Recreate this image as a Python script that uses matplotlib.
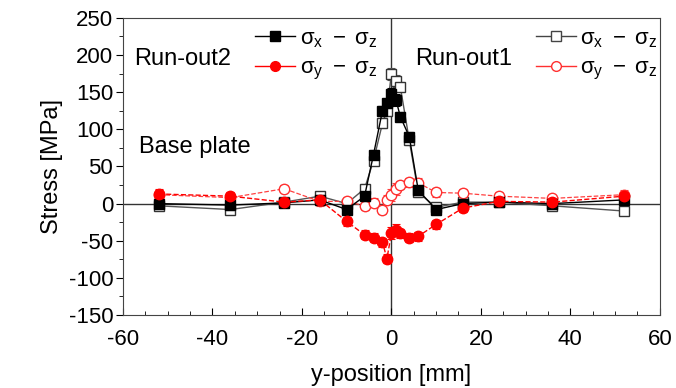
import numpy as np
import matplotlib
matplotlib.use('Agg')
import matplotlib.pyplot as plt
from matplotlib.lines import Line2D

plt.rcParams['font.family'] = ['Liberation Sans', 'DejaVu Sans']
plt.rcParams['mathtext.fontset'] = 'custom'
plt.rcParams['mathtext.rm'] = 'Liberation Sans'
plt.rcParams['mathtext.it'] = 'Liberation Sans'
plt.rcParams['axes.unicode_minus'] = False

# y-position of measurement points [mm]
pos = [-52, -36, -24, -16, -10, -6, -4, -2, -1, 0, 1, 2, 4, 6, 10, 16, 24, 36, 52]

# Run-out2 (filled symbols)
sxz_ro2 = [0, -2, 1, 5, -8, 10, 66, 125, 135, 148, 140, 117, 90, 18, -8, 0, 2, 0, 5]
syz_ro2 = [13, 10, 2, 5, -24, -42, -46, -52, -74, -40, -35, -40, -46, -44, -28, -6, 3, 2, 10]

# Run-out1 (open symbols)
sxz_ro1 = [-3, -8, 2, 10, 0, 20, 58, 108, 125, 175, 165, 157, 85, 15, -5, 2, 2, -3, -10]
syz_ro1 = [12, 8, 20, 3, 3, -3, 1, -8, 5, 12, 20, 25, 29, 28, 15, 14, 10, 7, 12]

err = [6, 6, 5, 6, 6, 6, 6, 6, 6, 8, 8, 6, 6, 6, 6, 5, 5, 5, 6]

fig = plt.figure(figsize=(6.76, 3.88), dpi=100)
ax = fig.add_axes([0.182, 0.188, 0.794, 0.766])

ax.axhline(0, color='#333333', lw=1.0, zorder=1)
ax.axvline(0, color='#333333', lw=1.0, zorder=1)

eb = dict(capsize=3, elinewidth=0.8, capthick=0.8, markersize=7.5)

# open symbols (Run-out1) drawn first
ax.errorbar(pos, sxz_ro1, yerr=err, fmt='-s', color='#555555', mfc='white',
            mec='#333333', lw=1.0, zorder=2, **eb)
ax.errorbar(pos, syz_ro1, yerr=err, fmt='--o', color='#ff4040', mfc='white',
            mec='#ff3030', lw=0.9, zorder=2, **eb)
# filled symbols (Run-out2)
ax.errorbar(pos, sxz_ro2, yerr=err, fmt='-s', color='black', mfc='black',
            lw=1.0, zorder=3, **eb)
ax.errorbar(pos, syz_ro2, yerr=err, fmt='--o', color='red', mfc='red',
            lw=1.0, zorder=3, **eb)

ax.set_xlim(-60, 60)
ax.set_ylim(-150, 250)
ax.set_xticks(np.arange(-60, 61, 20))
ax.set_yticks(np.arange(-150, 251, 50))
ax.set_xticks(np.arange(-60, 61, 5), minor=True)
ax.set_yticks(np.arange(-150, 251, 25), minor=True)
ax.tick_params(axis='x', which='major', direction='in', length=5, labelsize=16, pad=10)
ax.tick_params(axis='x', which='minor', direction='in', length=3)
ax.tick_params(axis='y', which='major', direction='out', length=5, labelsize=16, pad=2)
ax.tick_params(axis='y', which='minor', direction='out', length=3)
for s in ax.spines.values():
    s.set_color('#444444')

ax.set_xlabel('y-position [mm]', fontsize=17, labelpad=10)
ax.set_ylabel('Stress [MPa]', fontsize=17, labelpad=4)

lab_x = r'$\sigma_x\ -\ \sigma_z$'
lab_y = r'$\sigma_y\ -\ \sigma_z$'
hd1 = [Line2D([], [], color='black', marker='s', ms=7, lw=1.0),
       Line2D([], [], color='red', marker='o', ms=7, lw=1.0)]
hd2 = [Line2D([], [], color='#444444', marker='s', ms=7, mfc='white', lw=1.0),
       Line2D([], [], color='#ff3030', marker='o', ms=7, mfc='white', lw=1.0)]
leg1 = ax.legend(hd1, [lab_x, lab_y], loc='upper left', bbox_to_anchor=(0.23, 0.995),
                 frameon=False, fontsize=16, handlelength=1.8, handletextpad=0.2,
                 labelspacing=0.35, borderaxespad=0)
ax.add_artist(leg1)
ax.legend(hd2, [lab_x, lab_y], loc='upper left', bbox_to_anchor=(0.752, 0.995),
          frameon=False, fontsize=16, handlelength=1.8, handletextpad=0.2,
          labelspacing=0.35, borderaxespad=0)

ax.text(0.02, 0.84, 'Run-out2', transform=ax.transAxes, fontsize=17)
ax.text(0.545, 0.84, 'Run-out1', transform=ax.transAxes, fontsize=17)
ax.text(0.03, 0.545, 'Base plate', transform=ax.transAxes, fontsize=17)

fig.savefig('out.png', dpi=100)
